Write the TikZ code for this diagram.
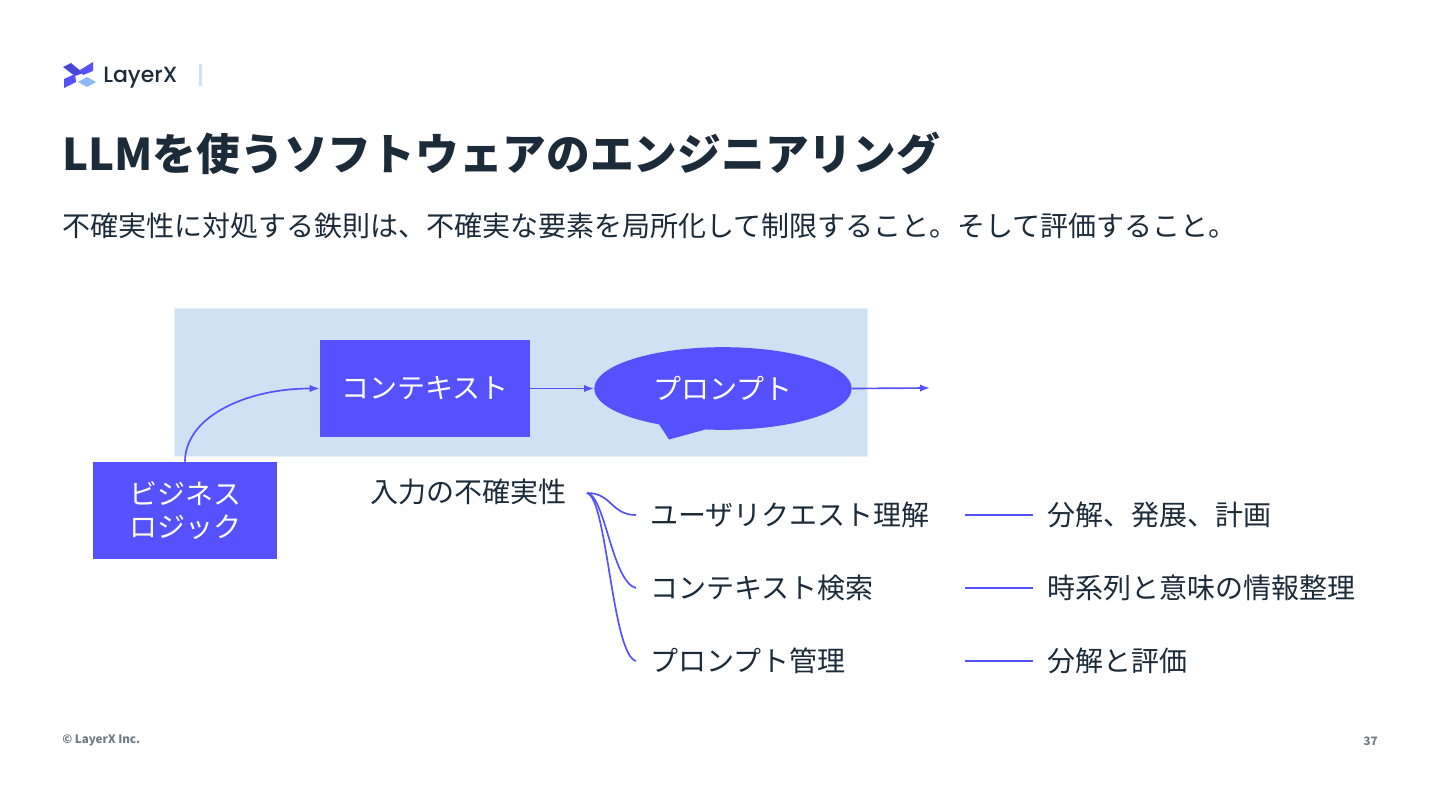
\documentclass[tikz,border=0pt]{standalone}
\usepackage{fontspec}
\setmainfont{Noto Sans CJK JP}
\newfontfamily\logofont{Poppins Medium}
\usetikzlibrary{positioning, shapes.callouts, arrows.meta}

\definecolor{brandblue}{HTML}{5551FF}
\definecolor{panelblue}{HTML}{CFE2F3}
\definecolor{inkdark}{HTML}{1C2B39}
\definecolor{footgrey}{HTML}{6F7B85}
\definecolor{logosky}{HTML}{8DB8F8}

\tikzset{
  bluebox/.style = {fill=brandblue, text=white, align=center, inner sep=0pt,
    font=\fontsize{21}{24.75}\selectfont},
  rowtext/.style = {anchor=west, text=inkdark, inner ysep=0pt, inner xsep=10.5pt, outer sep=0pt,
    font=\fontsize{21}{25}\selectfont},
  link/.style = {brandblue, line width=1.25pt},
  flow/.style = {link, -{Latex[length=7.5pt,width=5.5pt]}},
}

\begin{document}
\begin{tikzpicture}[x=0.75pt, y=-0.75pt]
\useasboundingbox (0,0) rectangle (1440,810);

% logo
\fill[brandblue!85!black] (63,67) -- (71,63) -- (83,73) -- (75,76) -- cycle;
\fill[brandblue] (64,88) -- (64,79) -- (75,74) -- (76,82) -- cycle;
\fill[brandblue] (80,70) -- (93,62) -- (93,71) -- (83,75) -- cycle;
\fill[logosky] (78,82) -- (87,77) -- (96,82) -- (87,87) -- cycle;
\node[anchor=west, inner sep=0pt, text=inkdark, font=\logofont\fontsize{16.5}{18}\selectfont] (logo) at (103,78) {LayerX};
\fill[panelblue] (199,64) rectangle (201.5,86);

% heading
\node[anchor=west, inner sep=0pt, text=inkdark, font=\fontsize{32.8}{38}\selectfont\bfseries] (title) at (62,153) {LLMを使うソフトウェアのエンジニアリング};
\node[anchor=west, inner sep=0pt, text=inkdark, font=\fontsize{21}{25}\selectfont] (lead) at (62,226) {不確実性に対処する鉄則は、不確実な要素を局所化して制限すること。そして評価すること。};

% panel
\node[fill=panelblue, draw=panelblue!50!white, line width=0.75pt, inner sep=0pt, minimum width=520pt, minimum height=111.5pt] (panel) at (521,382.5) {};

\node[bluebox, minimum width=157.5pt, minimum height=73pt] (context) at (425,388.5) {コンテキスト};
\node[bluebox, ellipse callout, minimum width=193pt, minimum height=62pt,
  callout absolute pointer={(669,439.5)}, callout pointer arc=22] (prompt) at (723,388.5) {プロンプト};
\coordinate (out) at (930,388);
\node[bluebox, minimum width=138.5pt, minimum height=73pt] (logic) at (185,510.5) {ビジネス\\ロジック};

\draw[flow] (logic.north) .. controls +(0,-44) and +(-75,0) .. (context.west);
\draw[flow] (context.east) -- (prompt.west);
\draw[flow] (prompt.east) -- (out);

% rows
\node[anchor=west, inner ysep=0pt, inner xsep=0pt, text=inkdark, font=\fontsize{21}{25}\selectfont] (input) at (370,492) {入力の不確実性};
\coordinate (fan) at (587,493);

\node[rowtext, text width=225.75pt] (req1) at (636,515) {ユーザリクエスト理解};
\node[rowtext, text width=225.75pt] (req2) at (636,588) {コンテキスト検索};
\node[rowtext, text width=225.75pt] (req3) at (636,661) {プロンプト管理};

\node[rowtext] (how1) at (1033,515) {分解、発展、計画};
\node[rowtext] (how2) at (1033,588) {時系列と意味の情報整理};
\node[rowtext] (how3) at (1033,661) {分解と評価};

\draw[link] (fan) .. controls +(25,0) and +(-25,0) .. (req1.west);
\draw[link] (fan) .. controls +(18,2) and +(-24,-6) .. (req2.west);
\draw[link] (fan) .. controls +(20,4) and +(-24,-6) .. (req3.west);
\foreach \n in {1,2,3}
  \draw[link] (req\n.east) -- (how\n.west);

% footer
\node[anchor=west, inner sep=0pt, text=footgrey, font=\fontsize{8.7}{11}\selectfont\bfseries] (copy) at (62,740) {© LayerX Inc.};
\node[anchor=east, inner sep=0pt, text=footgrey, font=\fontsize{8.7}{11}\selectfont\bfseries] (page) at (1378,741) {37};
\end{tikzpicture}
\end{document}
